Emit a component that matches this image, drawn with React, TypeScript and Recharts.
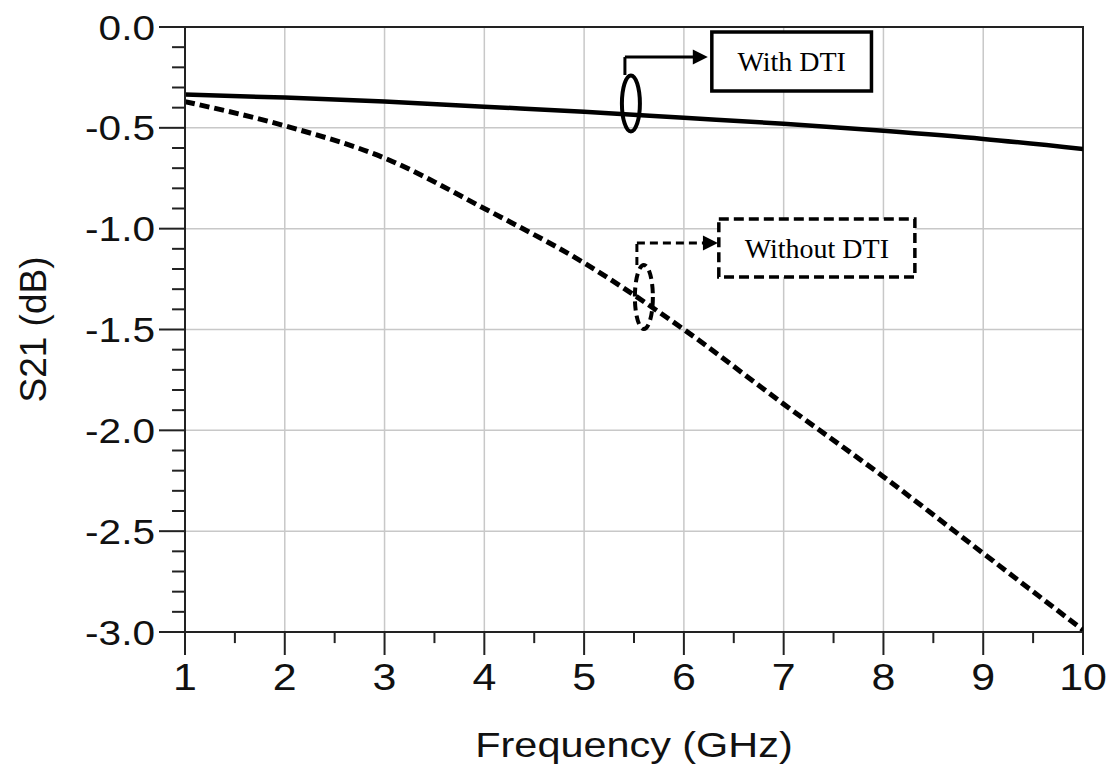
import React from "react";
import {
  LineChart, Line, XAxis, YAxis, CartesianGrid, ReferenceArea, ReferenceLine, ReferenceDot,
} from "recharts";

// frequency points (GHz)
const freq = [1, 2, 3, 4, 5, 6, 7, 8, 9, 10];
// S21 (dB)
const withDti = [-0.335, -0.35, -0.37, -0.395, -0.42, -0.45, -0.48, -0.515, -0.555, -0.605];
const withoutDti = [-0.37, -0.49, -0.65, -0.9, -1.17, -1.5, -1.87, -2.23, -2.61, -2.99];

const xTicks = [1, 2, 3, 4, 5, 6, 7, 8, 9, 10];
const xMinorTicks = [1.5, 2.5, 3.5, 4.5, 5.5, 6.5, 7.5, 8.5, 9.5];
const yTicks = [0, -0.5, -1, -1.5, -2, -2.5, -3];
const yMinorTicks = [
  -0.1, -0.2, -0.3, -0.4, -0.6, -0.7, -0.8, -0.9, -1.1, -1.2, -1.3, -1.4,
  -1.6, -1.7, -1.8, -1.9, -2.1, -2.2, -2.3, -2.4, -2.6, -2.7, -2.8, -2.9,
];

const data = freq.map((f, i) => ({ f, with: withDti[i], without: withoutDti[i] }));

const SANS = "'Liberation Sans', Arial, sans-serif";
const SERIF = "'Liberation Serif', 'Times New Roman', serif";
const AXIS = "#222";

// minor tick lengths, in data units (≈11px down, ≈13px left)
const X_MINOR_LEN = 0.055;
const Y_MINOR_LEN = 0.13;

function XTick({ x, y, payload }: any) {
  return (
    <g transform={`translate(${x},${y}) scale(1.16,1)`}>
      <text x={0} y={0} dy={27} textAnchor="middle" fontFamily={SANS} fontSize={37} fill="#111">
        {payload.value}
      </text>
    </g>
  );
}

function YTick({ x, y, payload }: any) {
  return (
    <g transform={`translate(${x},${y}) scale(1.16,1)`}>
      <text x={0} y={0} dy={12.5} textAnchor="end" fontFamily={SANS} fontSize={35} fill="#111">
        {Number(payload.value).toFixed(1)}
      </text>
    </g>
  );
}

const yTitle = (props: any) => {
  const vb = props.viewBox;
  const cx = vb.x + 33;
  const cy = vb.y + vb.height / 2;
  return (
    <text x={cx} y={cy} transform={`rotate(-90, ${cx}, ${cy})`} textAnchor="middle" dy={13}
      fontFamily={SANS} fontSize={37} fill="#111">S21 (dB)</text>
  );
};

const xTitle = (props: any) => {
  const vb = props.viewBox;
  const cx = vb.x + vb.width / 2;
  const by = vb.y + 125;
  return (
    <g transform={`translate(${cx},${by}) scale(1.15,1)`}>
      <text x={0} y={0} textAnchor="middle" fontFamily={SANS} fontSize={36} fill="#111">Frequency (GHz)</text>
    </g>
  );
};

const ellipse = (rx: number, ry: number, dashed: boolean) => (p: any) => (
  <ellipse cx={p.cx} cy={p.cy} rx={rx} ry={ry} fill="none" stroke="#000" strokeWidth={4}
    strokeDasharray={dashed ? "9 5" : undefined} />
);

const arrowHead = (p: any) => (
  <path d={`M${p.cx},${p.cy} L${p.cx - 15},${p.cy - 7.5} L${p.cx - 15},${p.cy + 7.5} Z`} fill="#000" />
);

const boxLabel = (text: string) => ({
  value: text, position: "center" as const, fontFamily: SERIF, fontSize: 28, fill: "#000",
});

export default function App() {
  return (
    <div style={{ position: "absolute", left: 0, top: 0, width: 1110, height: 769, background: "#fff" }}>
      <LineChart width={1110} height={769} data={data} margin={{ top: 27, right: 27, left: 0, bottom: 0 }}>
        <CartesianGrid stroke="#c8c8c8" strokeWidth={1.5} />
        <XAxis dataKey="f" type="number" domain={[1, 10]} ticks={xTicks} allowDataOverflow
          height={137} tickSize={23} tickMargin={8} tick={<XTick />}
          axisLine={{ stroke: AXIS, strokeWidth: 2 }} tickLine={{ stroke: AXIS, strokeWidth: 2 }}
          label={{ content: xTitle }} />
        <YAxis type="number" domain={[-3, 0]} ticks={yTicks} allowDataOverflow
          width={185} tickSize={26} tickMargin={4} tick={<YTick />}
          axisLine={{ stroke: AXIS, strokeWidth: 2 }} tickLine={{ stroke: AXIS, strokeWidth: 2 }}
          label={{ content: yTitle }} />

        {/* plot frame */}
        <ReferenceArea x1={1} x2={10} y1={-3} y2={0} fill="none" stroke={AXIS} strokeWidth={2} ifOverflow="visible" />

        {/* minor ticks */}
        {xMinorTicks.map((t) => (
          <ReferenceLine key={`xm${t}`} ifOverflow="visible" stroke={AXIS} strokeWidth={2}
            segment={[{ x: t, y: -3 }, { x: t, y: -3 - X_MINOR_LEN }]} />
        ))}
        {yMinorTicks.map((t) => (
          <ReferenceLine key={`ym${t}`} ifOverflow="visible" stroke={AXIS} strokeWidth={2}
            segment={[{ x: 1 - Y_MINOR_LEN, y: t }, { x: 1, y: t }]} />
        ))}

        <Line dataKey="with" type="monotone" stroke="#000" strokeWidth={4.5} dot={false} isAnimationActive={false} />
        <Line dataKey="without" type="monotone" stroke="#000" strokeWidth={5} strokeDasharray="10 5"
          dot={false} isAnimationActive={false} />

        {/* With DTI annotation */}
        <ReferenceArea x1={6.28} x2={7.88} y1={-0.317} y2={-0.025} fill="#fff" fillOpacity={1}
          stroke="#000" strokeWidth={3.5} label={boxLabel("With DTI")} />
        <ReferenceLine segment={[{ x: 5.409, y: -0.238 }, { x: 5.409, y: -0.149 }]} stroke="#000" strokeWidth={3} />
        <ReferenceLine segment={[{ x: 5.409, y: -0.149 }, { x: 6.11, y: -0.149 }]} stroke="#000" strokeWidth={3} />
        <ReferenceDot x={6.24} y={-0.149} shape={arrowHead} />
        <ReferenceDot x={5.469} y={-0.379} shape={ellipse(9, 28, false)} />

        {/* Without DTI annotation */}
        <ReferenceArea x1={6.35} x2={8.315} y1={-1.24} y2={-0.952} fill="#fff" fillOpacity={1}
          stroke="#000" strokeWidth={3.5} strokeDasharray="10 5" label={boxLabel("Without DTI")} />
        <ReferenceLine segment={[{ x: 5.529, y: -1.18 }, { x: 5.529, y: -1.071 }]} stroke="#000" strokeWidth={3}
          strokeDasharray="8 5" />
        <ReferenceLine segment={[{ x: 5.529, y: -1.071 }, { x: 6.2, y: -1.071 }]} stroke="#000" strokeWidth={3}
          strokeDasharray="8 5" />
        <ReferenceDot x={6.341} y={-1.071} shape={arrowHead} />
        <ReferenceDot x={5.599} y={-1.339} shape={ellipse(9, 32, true)} />
      </LineChart>
    </div>
  );
}
